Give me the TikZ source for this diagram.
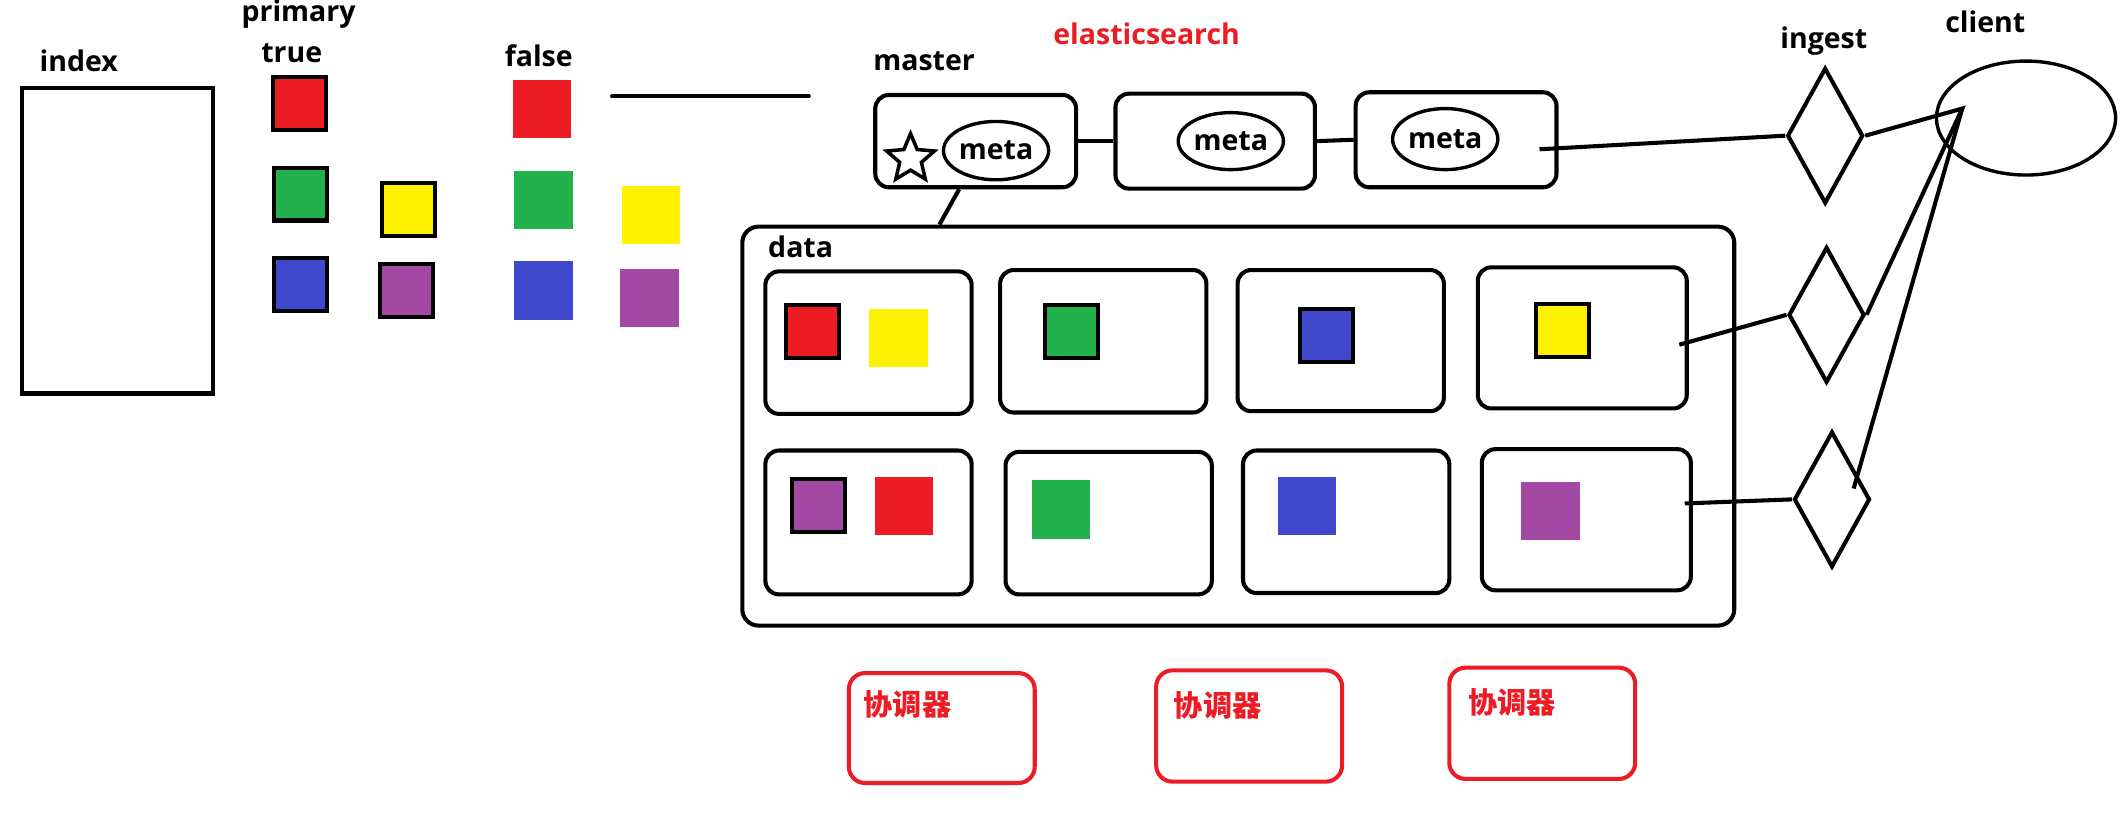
\documentclass[tikz,border=0pt]{standalone}
\usepackage{fontspec}
\setmainfont{Open Sans}
\newfontfamily\cjk{Noto Sans CJK SC}[UprightFont={* Black}]
\usepackage{tikz}
\usetikzlibrary{calc}
\usetikzlibrary{shapes.geometric}
\definecolor{esred}{RGB}{237,28,36}
\definecolor{esgreen}{RGB}{34,177,76}
\definecolor{esblue}{RGB}{63,72,204}
\definecolor{esyellow}{RGB}{255,242,0}
\definecolor{espurple}{RGB}{163,73,164}

\begin{document}
\begin{tikzpicture}[x=1pt,y=-1pt,line width=3pt,
  font=\fontsize{21}{21}\selectfont\bfseries,
  lbl/.style={anchor=base,inner sep=0pt},
  box/.style={draw,rounded corners=10pt,inner sep=0pt},
  shard/.style={fill=#1,minimum size=43pt,inner sep=0pt},
  pshard/.style={fill=#1,draw,minimum size=39pt,inner sep=0pt},
  metabox/.style={draw,ellipse,line width=2.5pt,inner sep=0pt,minimum width=69pt,minimum height=43pt},
  ingestbox/.style={draw,diamond,inner sep=0pt,minimum width=56pt,minimum height=100pt},
  coordbox/.style={draw=esred,rounded corners=12pt,minimum width=137pt,minimum height=81pt,inner sep=0pt},
  coordlbl/.style={anchor=west,inner sep=0pt,text=esred,font=\cjk\fontsize{21.5}{21.5}\selectfont}]
\useasboundingbox (0,0) rectangle (1563,609.4);

% Index and shards
\node[draw,minimum width=141pt,minimum height=225pt,inner sep=0pt] (index) at (86.5,177.5) {};
\node[lbl] (indexlbl) at (58,53) {index};
\node[lbl] (primarylbl) at (220,16) {primary};
\node[lbl] (truelbl) at (215,46) {true};
\node[lbl] (falselbl) at (397,49) {false};

\node[pshard=esred] (t1) at (220.5,76.5) {};
\node[pshard=esgreen] (t2) at (221.5,143) {};
\node[pshard=esblue] (t3) at (221.5,209.5) {};
\node[pshard=esyellow] (t4) at (301,154.5) {};
\node[pshard=espurple] (t5) at (299.5,214) {};

\node[shard=esred] (f1) at (399.5,80.5) {};
\node[shard=esgreen] (f2) at (400.5,147.5) {};
\node[shard=esblue] (f3) at (400.5,214) {};
\node[shard=esyellow] (f4) at (479.5,158.5) {};
\node[shard=espurple] (f5) at (478.5,219.5) {};

\coordinate (l1) at (451,71);
\coordinate (l2) at (596,71);
\draw[line cap=round] (l1) -- (l2);

% Master nodes
\node[lbl] (masterlbl) at (681,52) {master};
\node[lbl,text=esred] (eslbl) at (845,33) {elasticsearch};
\node[box,minimum width=148pt,minimum height=68pt] (m1) at (719,104) {};
\node[box,minimum width=147pt,minimum height=70pt] (m2) at (895.5,104) {};
\node[box,minimum width=148pt,minimum height=70pt] (m3) at (1073,103) {};
\node[metabox] (me1) at (734,111) {meta};
\node[metabox,minimum height=42pt] (me2) at (907,104) {meta};
\node[metabox,minimum width=70pt,minimum height=45pt] (me3) at (1065,102.5) {meta};
\node[draw,star,star points=5,star point ratio=2.2,line width=2.6pt,minimum size=37pt,inner sep=0pt] (star) at (671,117) {};
\draw (m1.east) -- (m2.west);
\draw (m2.east) -- (m3.west);

% Data nodes
\node[box,rounded corners=12pt,minimum width=731pt,minimum height=294pt] (data) at (912.5,314) {};
\node[lbl] (datalbl) at (590,190) {data};
\draw (m1.-109) -- (data.146.7);

\node[box,minimum width=152pt,minimum height=105pt] (d11) at (640,252.5) {};
\node[box,minimum width=152pt,minimum height=105pt] (d12) at (813,251.5) {};
\node[box,minimum width=152pt,minimum height=104pt] (d13) at (988,251) {};
\node[box,minimum width=154pt,minimum height=104pt] (d14) at (1166,249) {};
\node[box,minimum width=152pt,minimum height=106pt] (d21) at (640,385) {};
\node[box,minimum width=152pt,minimum height=105pt] (d22) at (817,385.5) {};
\node[box,minimum width=152pt,minimum height=105pt] (d23) at (992,384.5) {};
\node[box,minimum width=154pt,minimum height=104pt] (d24) at (1169,383) {};

\node[pshard=esred] (s1) at (599,244.5) {};
\node[shard=esyellow] (s2) at (662,249) {};
\node[pshard=esgreen] (s3) at (789.5,244) {};
\node[pshard=esblue] (s4) at (977.5,247) {};
\node[pshard=esyellow] (s5) at (1151.5,243.5) {};
\node[pshard=espurple] (s6) at (603,372.5) {};
\node[shard=esred] (s7) at (666,373) {};
\node[shard=esgreen] (s8) at (782,375.5) {};
\node[shard=esblue] (s9) at (963,373) {};
\node[shard=espurple] (s10) at (1142.5,376.5) {};

% Ingest and client
\node[lbl] (ingestlbl) at (1344,36) {ingest};
\node[lbl] (clientlbl) at (1463,24) {client};
\node[ingestbox] (ing1) at (1345,100) {};
\node[ingestbox] (ing2) at (1346,232) {};
\node[ingestbox] (ing3) at (1350,368) {};
\node[draw,ellipse,line width=2.5pt,minimum width=132pt,minimum height=84pt] (client) at (1493,87) {};
\coordinate (cl) at (1446,80);
\coordinate (tip) at (1366,360);

\draw ($(m3.east)+(-14,7)$) -- (ing1.west);
\draw ($(d14.east)+(-7,5)$) -- (ing2.west);
\draw ($(d24.east)+(-6,-12)$) -- (ing3.west);
\draw (ing1.east) -- (cl) -- (ing2.east);
\draw (cl) -- (tip);

% Coordinators
\node[coordbox,minimum height=81pt] (c1) at (694,536.5) {};
\node[coordbox,minimum height=82pt] (c2) at (920.5,535) {};
\node[coordbox,minimum height=82pt] (c3) at (1136.5,533) {};
\node[coordlbl] (c1lbl) at ($(c1.north west)+(11,24.5)$) {协调器};
\node[coordlbl] (c2lbl) at ($(c2.north west)+(13,27)$) {协调器};
\node[coordlbl] (c3lbl) at ($(c3.north west)+(14,27)$) {协调器};
\end{tikzpicture}
\end{document}
